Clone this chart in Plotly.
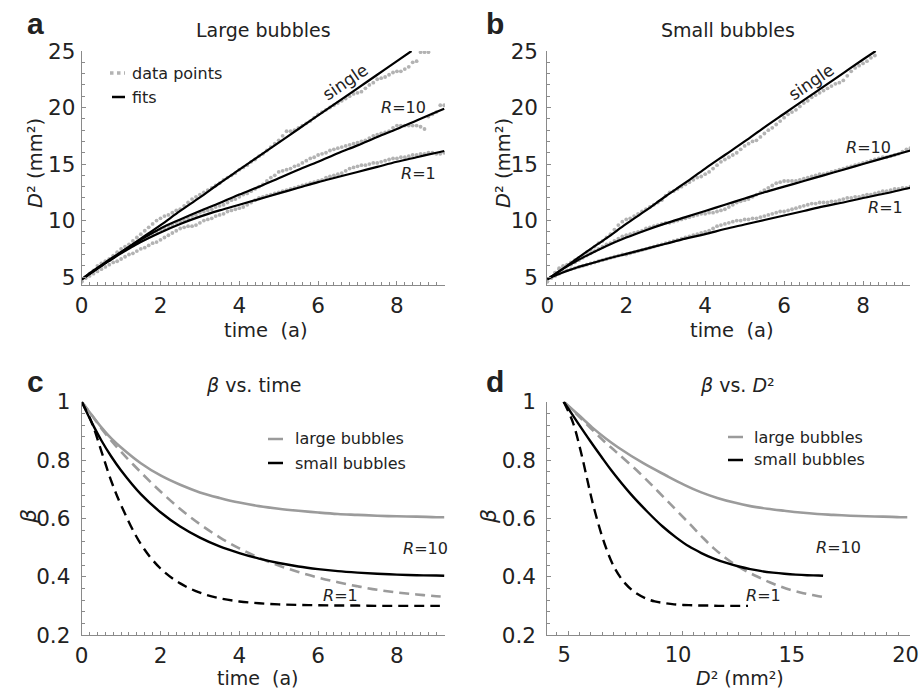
import plotly.graph_objects as go

# ---------------------------------------------------------------------------
# Measured bubble size D^2 (mm^2) against time (a), sampled every 0.1 a
# ---------------------------------------------------------------------------
T_DATA = [0.0, 0.1, 0.2, 0.3, 0.4, 0.5, 0.6, 0.7, 0.8, 0.9,
          1.0, 1.1, 1.2, 1.3, 1.4, 1.5, 1.6, 1.7, 1.8, 1.9,
          2.0, 2.1, 2.2, 2.3, 2.4, 2.5, 2.6, 2.7, 2.8, 2.9,
          3.0, 3.1, 3.2, 3.3, 3.4, 3.5, 3.6, 3.7, 3.8, 3.9,
          4.0, 4.1, 4.2, 4.3, 4.4, 4.5, 4.6, 4.7, 4.8, 4.9,
          5.0, 5.1, 5.2, 5.3, 5.4, 5.5, 5.6, 5.7, 5.8, 5.9,
          6.0, 6.1, 6.2, 6.3, 6.4, 6.5, 6.6, 6.7, 6.8, 6.9,
          7.0, 7.1, 7.2, 7.3, 7.4, 7.5, 7.6, 7.7, 7.8, 7.9,
          8.0, 8.1, 8.2, 8.3, 8.4, 8.5, 8.6, 8.7, 8.8, 8.9,
          9.0, 9.1, 9.2]

# large bubbles
LARGE_SINGLE_DATA = [4.6, 5.0, 5.3, 5.6, 6.0, 6.2, 6.4, 6.6, 6.9, 7.2,
                     7.5, 7.7, 7.9, 8.2, 8.5, 8.8, 9.1, 9.4, 9.7, 10.0,
                     10.2, 10.4, 10.5, 10.7, 10.9, 11.0, 11.3, 11.6, 11.9, 12.1,
                     12.3, 12.5, 12.7, 12.9, 13.1, 13.3, 13.6, 13.8, 14.0, 14.2,
                     14.5, 14.7, 14.9, 15.2, 15.4, 15.7, 15.9, 16.2, 16.5, 16.8,
                     17.1, 17.5, 17.9, 17.9, 18.0, 18.2, 18.4, 18.6, 18.8, 19.1,
                     19.4, 19.6, 19.8, 20.0, 20.2, 20.4, 20.6, 20.8, 21.0, 21.2,
                     21.3, 21.4, 21.7, 22.0, 22.2, 22.5, 22.6, 22.7, 22.9, 23.1,
                     23.2, 23.2, 23.4, 23.6, 24.0, 24.1, 24.9, 24.9, 24.9]
LARGE_R10_DATA = [4.6, 5.0, 5.3, 5.5, 5.8, 6.0, 6.3, 6.5, 6.8, 7.0,
                  7.2, 7.4, 7.6, 7.8, 8.0, 8.2, 8.4, 8.6, 8.8, 9.0,
                  9.2, 9.3, 9.5, 9.6, 9.8, 9.9, 10.0, 10.2, 10.4, 10.5,
                  10.7, 10.8, 10.9, 11.0, 11.2, 11.3, 11.4, 11.6, 11.8, 11.9,
                  12.1, 12.3, 12.4, 12.6, 12.8, 13.0, 13.2, 13.5, 13.8, 14.0,
                  14.3, 14.4, 14.5, 14.6, 14.8, 14.9, 15.1, 15.3, 15.5, 15.6,
                  15.8, 15.9, 16.0, 16.2, 16.3, 16.4, 16.5, 16.6, 16.7, 16.8,
                  16.9, 17.0, 17.1, 17.3, 17.5, 17.6, 17.7, 17.8, 17.9, 18.2,
                  18.4, 18.4, 18.4, 18.4, 18.4, 18.4, 18.3, 18.1, 19.2, 19.4,
                  19.6, 20.2, 20.2]
LARGE_R1_DATA = [4.6, 4.9, 5.1, 5.3, 5.5, 5.7, 5.9, 6.1, 6.3, 6.4,
                 6.6, 6.8, 7.0, 7.1, 7.3, 7.5, 7.6, 7.8, 8.0, 8.1,
                 8.3, 8.5, 8.7, 8.9, 9.1, 9.3, 9.4, 9.5, 9.5, 9.6,
                 9.8, 10.0, 10.1, 10.2, 10.4, 10.5, 10.6, 10.8, 10.9, 11.0,
                 11.1, 11.2, 11.4, 11.6, 11.8, 12.0, 12.1, 12.2, 12.3, 12.4,
                 12.5, 12.6, 12.7, 12.8, 12.9, 13.0, 13.1, 13.2, 13.3, 13.4,
                 13.5, 13.6, 13.8, 13.9, 14.0, 14.1, 14.2, 14.4, 14.6, 14.7,
                 14.8, 14.9, 14.9, 15.0, 15.1, 15.1, 15.2, 15.3, 15.4, 15.5,
                 15.5, 15.6, 15.6, 15.7, 15.8, 15.8, 15.9, 15.9, 16.0, 16.0,
                 15.9, 15.9, 16.0]

# small bubbles
SMALL_SINGLE_DATA = [4.6, 5.0, 5.4, 5.8, 6.0, 6.1, 6.3, 6.5, 6.7, 6.9,
                     7.2, 7.4, 7.7, 8.0, 8.2, 8.5, 8.8, 9.2, 9.6, 9.9,
                     10.1, 10.2, 10.4, 10.6, 10.8, 11.0, 11.2, 11.4, 11.6, 11.8,
                     12.2, 12.5, 12.6, 12.8, 13.0, 13.2, 13.4, 13.6, 13.8, 13.9,
                     14.1, 14.3, 14.6, 14.9, 15.2, 15.4, 15.6, 15.8, 16.0, 16.3,
                     16.6, 16.8, 17.0, 17.1, 17.4, 17.7, 18.0, 18.2, 18.5, 18.8,
                     19.1, 19.4, 19.6, 19.8, 20.1, 20.4, 20.6, 20.9, 21.1, 21.3,
                     21.5, 21.7, 21.9, 22.1, 22.2, 22.4, 22.8, 23.2, 23.5, 23.7,
                     23.9, 24.1, 24.4, 24.6]
SMALL_R10_DATA = [4.6, 5.0, 5.4, 5.7, 5.9, 6.0, 6.1, 6.3, 6.5, 6.7,
                  6.9, 7.1, 7.3, 7.5, 7.7, 7.9, 8.0, 8.2, 8.4, 8.6,
                  8.7, 8.8, 8.9, 9.0, 9.1, 9.3, 9.4, 9.5, 9.6, 9.7,
                  9.8, 9.8, 9.9, 10.0, 10.1, 10.2, 10.3, 10.4, 10.5, 10.6,
                  10.6, 10.7, 10.7, 10.8, 10.9, 11.0, 11.2, 11.4, 11.6, 11.7,
                  11.8, 11.9, 12.1, 12.3, 12.5, 12.7, 12.9, 13.1, 13.3, 13.4,
                  13.5, 13.5, 13.5, 13.5, 13.6, 13.7, 13.8, 13.9, 14.0, 14.1,
                  14.1, 14.2, 14.3, 14.4, 14.5, 14.6, 14.7, 14.8, 14.9, 15.0,
                  15.1, 15.2, 15.3, 15.4, 15.5, 15.6, 15.6, 15.7, 15.8, 15.9,
                  16.1, 16.3, 16.4]
SMALL_R1_DATA = [4.6, 4.9, 5.1, 5.3, 5.5, 5.6, 5.7, 5.8, 5.9, 6.0,
                 6.1, 6.2, 6.3, 6.4, 6.5, 6.6, 6.7, 6.8, 6.9, 7.0,
                 7.0, 7.1, 7.2, 7.3, 7.4, 7.5, 7.6, 7.7, 7.8, 7.9,
                 8.0, 8.1, 8.2, 8.3, 8.4, 8.5, 8.6, 8.7, 8.8, 8.9,
                 9.0, 9.1, 9.3, 9.5, 9.6, 9.7, 9.8, 9.9, 10.0, 10.0,
                 10.1, 10.1, 10.2, 10.2, 10.3, 10.4, 10.5, 10.6, 10.7, 10.8,
                 10.8, 10.9, 11.0, 11.1, 11.2, 11.3, 11.4, 11.5, 11.5, 11.6,
                 11.6, 11.6, 11.7, 11.7, 11.8, 11.9, 12.0, 12.0, 12.1, 12.1,
                 12.2, 12.3, 12.3, 12.4, 12.5, 12.6, 12.6, 12.7, 12.8, 12.8,
                 12.9, 12.9, 13.0]

# ---------------------------------------------------------------------------
# Model fits
# ---------------------------------------------------------------------------
T_SINGLE_LARGE = [0, 0.5, 1, 1.5, 2, 2.5, 3, 3.5, 4, 4.5, 5, 5.5, 6, 6.5, 7, 7.5, 8, 8.37]
LARGE_SINGLE_FIT = [4.8, 6.0, 7.2, 8.4, 9.6, 10.85, 12.05, 13.3, 14.5, 15.7,
                    16.9, 18.1, 19.3, 20.5, 21.7, 22.9, 24.1, 25.0]
T_SINGLE_SMALL = [0, 0.5, 1, 1.5, 2, 2.5, 3, 3.5, 4, 4.5, 5, 5.5, 6, 6.5, 7, 7.5, 8, 8.32]
SMALL_SINGLE_FIT = [4.8, 6.0, 7.25, 8.45, 9.7, 10.9, 12.15, 13.35, 14.6, 15.8,
                    17.0, 18.25, 19.45, 20.65, 21.85, 23.05, 24.25, 25.0]

T_FIT = [0, 0.25, 0.5, 0.75, 1, 1.5, 2, 2.5, 3, 3.5, 4, 4.5, 5, 5.5, 6, 6.5,
         7, 7.5, 8, 8.5, 9, 9.2]
LARGE_R10_FIT = [4.8, 5.45, 6.05, 6.65, 7.2, 8.3, 9.3, 10.1, 10.85, 11.55, 12.3,
                 13.0, 13.75, 14.5, 15.2, 15.95, 16.65, 17.4, 18.1, 18.85, 19.6, 19.9]
LARGE_R1_FIT = [4.8, 5.4, 6.0, 6.55, 7.1, 8.1, 8.95, 9.7, 10.35, 10.9, 11.4,
                11.9, 12.4, 12.9, 13.4, 13.85, 14.3, 14.75, 15.2, 15.6, 16.0, 16.15]
SMALL_R10_FIT = [4.8, 5.4, 5.95, 6.45, 6.9, 7.75, 8.5, 9.15, 9.75, 10.3, 10.85,
                 11.4, 11.95, 12.5, 13.0, 13.5, 14.0, 14.5, 15.0, 15.5, 16.0, 16.2]
SMALL_R1_FIT = [4.8, 5.2, 5.55, 5.85, 6.1, 6.6, 7.05, 7.5, 7.95, 8.4, 8.8,
                9.25, 9.65, 10.05, 10.45, 10.85, 11.25, 11.6, 12.0, 12.35, 12.75, 12.9]

# beta on the same time grid
BETA_LARGE_R10 = [1.0, 0.955, 0.912, 0.874, 0.843, 0.789, 0.747, 0.715, 0.689, 0.670,
                  0.654, 0.642, 0.633, 0.626, 0.620, 0.615, 0.612, 0.609, 0.607,
                  0.606, 0.604, 0.604]
BETA_LARGE_R1 = [1.0, 0.955, 0.908, 0.866, 0.828, 0.758, 0.692, 0.632, 0.580, 0.535,
                 0.497, 0.465, 0.438, 0.416, 0.397, 0.381, 0.367, 0.355, 0.346,
                 0.339, 0.333, 0.331]
BETA_SMALL_R10 = [1.0, 0.93, 0.867, 0.812, 0.764, 0.683, 0.621, 0.572, 0.534, 0.504,
                  0.481, 0.462, 0.447, 0.435, 0.426, 0.419, 0.414, 0.410, 0.407,
                  0.405, 0.404, 0.403]
BETA_SMALL_R1 = [1.0, 0.93, 0.83, 0.728, 0.645, 0.512, 0.428, 0.377, 0.345, 0.326,
                 0.315, 0.309, 0.305, 0.303, 0.302, 0.301, 0.301, 0.300, 0.300,
                 0.300, 0.300, 0.300]

# ---------------------------------------------------------------------------
W, H = 921, 692
FONT = "DejaVu Sans"
DOT = "#b3b3b3"
GREY = "#9b9b9b"
AXIS = "#8a8a8a"


def px(x):
    return x / W


def py(y):
    return 1 - y / H


fig = go.Figure()


def dots(x, y, xa, ya):
    fig.add_trace(go.Scatter(x=x, y=y, xaxis=xa, yaxis=ya, mode="markers",
                             marker=dict(color=DOT, size=3.8), hoverinfo="skip",
                             showlegend=False))


def curve(x, y, xa, ya, color="black", width=2.2, dash="solid"):
    fig.add_trace(go.Scatter(x=x, y=y, xaxis=xa, yaxis=ya, mode="lines",
                             line=dict(color=color, width=width, dash=dash,
                                       shape="spline", smoothing=1.0),
                             hoverinfo="skip", showlegend=False))


# panel a: large bubbles
dots(T_DATA[:len(LARGE_SINGLE_DATA)], LARGE_SINGLE_DATA, "x", "y")
dots(T_DATA, LARGE_R10_DATA, "x", "y")
dots(T_DATA, LARGE_R1_DATA, "x", "y")
curve(T_SINGLE_LARGE, LARGE_SINGLE_FIT, "x", "y")
curve(T_FIT, LARGE_R10_FIT, "x", "y")
curve(T_FIT, LARGE_R1_FIT, "x", "y")

# panel b: small bubbles
dots(T_DATA[:len(SMALL_SINGLE_DATA)], SMALL_SINGLE_DATA, "x2", "y2")
dots(T_DATA, SMALL_R10_DATA, "x2", "y2")
dots(T_DATA, SMALL_R1_DATA, "x2", "y2")
curve(T_SINGLE_SMALL, SMALL_SINGLE_FIT, "x2", "y2")
curve(T_FIT, SMALL_R10_FIT, "x2", "y2")
curve(T_FIT, SMALL_R1_FIT, "x2", "y2")

# panel c: beta vs time
DASH = "10px,6px"
curve(T_FIT, BETA_LARGE_R10, "x3", "y3", GREY, 2.6)
curve(T_FIT, BETA_LARGE_R1, "x3", "y3", GREY, 2.6, DASH)
curve(T_FIT, BETA_SMALL_R10, "x3", "y3", "black", 2.4)
curve(T_FIT, BETA_SMALL_R1, "x3", "y3", "black", 2.4, DASH)

# panel d: beta vs D^2
curve(LARGE_R10_FIT, BETA_LARGE_R10, "x4", "y4", GREY, 2.6)
curve(LARGE_R1_FIT, BETA_LARGE_R1, "x4", "y4", GREY, 2.6, DASH)
curve(SMALL_R10_FIT, BETA_SMALL_R10, "x4", "y4", "black", 2.4)
curve(SMALL_R1_FIT, BETA_SMALL_R1, "x4", "y4", "black", 2.4, DASH)


def axis(domain, rng, tick0, dtick, minor, anchor, standoff=2, shift=0, size=21.5):
    return dict(domain=domain, range=rng, anchor=anchor, tickmode="linear",
                tick0=tick0, dtick=dtick, showline=True, linecolor=AXIS,
                linewidth=1, ticks="inside", ticklen=4, tickwidth=1,
                tickcolor=AXIS, minor=dict(ticks="inside", ticklen=3, dtick=minor,
                                           tick0=tick0, tickcolor=AXIS),
                showgrid=False, zeroline=False, automargin=False,
                ticklabelstandoff=standoff, ticklabelshift=shift,
                ticklabeloverflow="allow",
                tickfont=dict(family=FONT, size=size, color="#222"))


XL = [px(81.7), px(445)]
XR = [px(547.3), px(910)]
YT = [py(285), py(51)]
YB = [py(635), py(401.7)]

fig.update_layout(
    width=W, height=H, margin=dict(l=0, r=0, t=0, b=0, pad=0, autoexpand=False),
    paper_bgcolor="white", plot_bgcolor="white",
    font=dict(family=FONT, color="#222"),
    xaxis=axis(XL, [0, 9.22], 0, 2, 0.2, "y", 1),
    yaxis=axis(YT, [4.3, 25], 5, 5, 1, "x", 1),
    xaxis2=axis(XR, [0, 9.19], 0, 2, 0.2, "y2", 1),
    yaxis2=axis(YT, [4.3, 25], 5, 5, 1, "x2", 4),
    xaxis3=axis(XL, [0, 9.22], 0, 2, 0.2, "y3", 1),
    yaxis3=axis(YB, [0.2, 1.0], 0.2, 0.2, 0.04, "x3", 6),
    xaxis4=axis(XR, [4.08, 20.02], 5, 5, 0.5, "y4", 1, shift=-4, size=21),
    yaxis4=axis(YB, [0.2, 1.0], 0.2, 0.2, 0.04, "x4", 6),
)

ann = []


def text(x, y, s, size, angle=0, family=FONT, xanchor="center"):
    ann.append(dict(x=px(x), y=py(y), xref="paper", yref="paper", text=s,
                    showarrow=False, textangle=angle, xanchor=xanchor,
                    yanchor="middle", font=dict(family=family, size=size, color="#222")))


# panel letters
for lx, ly, s in [(35, 23, "a"), (495, 23, "b"), (35, 381, "c"), (495, 381, "d")]:
    text(lx, ly, "<b>%s</b>" % s, 30, family="Liberation Sans")

# panel titles
text(263, 30, "Large bubbles", 19)
text(728, 30, "Small bubbles", 19)
text(253, 385, "<i>β</i> vs. time", 19)
text(737, 385, "<i>β</i> vs. <i>D</i>²", 19)

# axis titles
TIME = "time\u00a0 (a)"
D2 = "<i>D</i>² (mm²)"
text(266, 330, TIME, 19.5)
text(732, 330, TIME, 19.5)
text(257, 678, TIME, 19)
text(740, 678, D2, 19)
text(35, 163, D2, 19.5, angle=-90)
text(503, 163, D2, 19.5, angle=-90)
text(28, 517, "<i>β</i>", 22, angle=-90)
text(488, 517, "<i>β</i>", 22, angle=-90)

# curve labels
text(345, 82, "single", 17, angle=-34)
text(811, 82, "single", 17, angle=-34)
text(403, 107, "<i>R</i>=10", 16)
text(418, 173, "<i>R</i>=1", 16)
text(868, 147, "<i>R</i>=10", 16)
text(885, 207, "<i>R</i>=1", 16)
text(425, 548, "<i>R</i>=10", 16)
text(340, 595, "<i>R</i>=1", 16)
text(838, 547, "<i>R</i>=10", 16)
text(763, 595, "<i>R</i>=1", 16)

# legends
text(130, 73, "data points", 16, xanchor="left")
text(130, 97, "fits", 16, xanchor="left")
text(293, 439, "large bubbles", 16, xanchor="left")
text(293, 463, "small bubbles", 16, xanchor="left")
text(752, 437, "large bubbles", 16, xanchor="left")
text(752, 460, "small bubbles", 16, xanchor="left")

shapes = [
    dict(type="line", xref="paper", yref="paper", x0=px(110), x1=px(125),
         y0=py(73), y1=py(73), line=dict(color=DOT, width=3.5, dash="dot")),
    dict(type="line", xref="paper", yref="paper", x0=px(112), x1=px(125),
         y0=py(97), y1=py(97), line=dict(color="black", width=2.5)),
    dict(type="line", xref="paper", yref="paper", x0=px(268), x1=px(283),
         y0=py(439), y1=py(439), line=dict(color=GREY, width=2.5)),
    dict(type="line", xref="paper", yref="paper", x0=px(268), x1=px(283),
         y0=py(463), y1=py(463), line=dict(color="black", width=2.5)),
    dict(type="line", xref="paper", yref="paper", x0=px(728), x1=px(743),
         y0=py(437), y1=py(437), line=dict(color=GREY, width=2.5)),
    dict(type="line", xref="paper", yref="paper", x0=px(728), x1=px(743),
         y0=py(460), y1=py(460), line=dict(color="black", width=2.5)),
]

fig.update_layout(annotations=ann, shapes=shapes)
fig.write_html("out.html")
